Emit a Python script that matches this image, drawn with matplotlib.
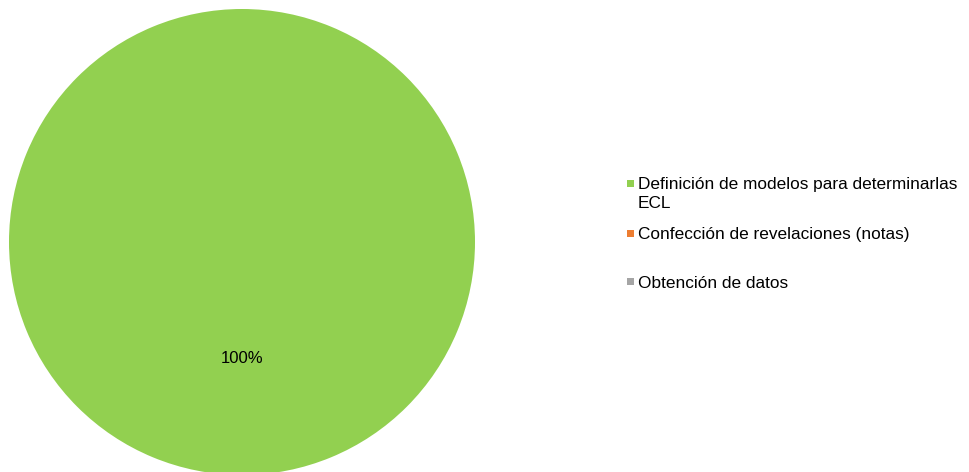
import matplotlib
matplotlib.use('Agg')
import matplotlib.pyplot as plt
from matplotlib.patches import Rectangle

plt.rcParams['font.family'] = ['Liberation Sans', 'DejaVu Sans']

categories = ['Definición de modelos para determinarlas\nECL',
              'Confección de revelaciones (notas)',
              'Obtención de datos']
values = [1, 0, 0]
colors = ['#92D050', '#ED7D31', '#A5A5A5']

fig = plt.figure(figsize=(9.7, 4.72), dpi=100)
W, H = 970, 472
# pie axes: circle centred at (242, 242) px from top, radius 233 px
r_px = 233
cx, cy = 242, H - 242
ax = fig.add_axes([(cx - r_px) / W, (cy - r_px) / H, 2 * r_px / W, 2 * r_px / H])

def pct(p):
    return '%.0f%%' % p if p > 0 else ''

wedges, texts, autotexts = ax.pie(values, colors=colors, startangle=90,
                                  counterclock=False, autopct=pct,
                                  pctdistance=0.5, radius=1,
                                  textprops={'fontsize': 12, 'color': 'black'})
ax.set_xlim(-1, 1)
ax.set_ylim(-1, 1)
ax.set_aspect('equal')
ax.axis('off')

# legend drawn by hand so the uneven Excel-style spacing is kept
legend_y = [183.5, 233.5, 281.5]
for label, color, y in zip(categories, colors, legend_y):
    fig.patches.append(Rectangle((627 / W, (H - y - 3.5) / H), 7 / W, 7 / H,
                                 transform=fig.transFigure, facecolor=color,
                                 edgecolor='none'))
    fig.text(638 / W, (H - y + 6) / H, label, fontsize=12.4, va='top',
             ha='left', linespacing=1.3)

fig.savefig('out.png', dpi=100)
